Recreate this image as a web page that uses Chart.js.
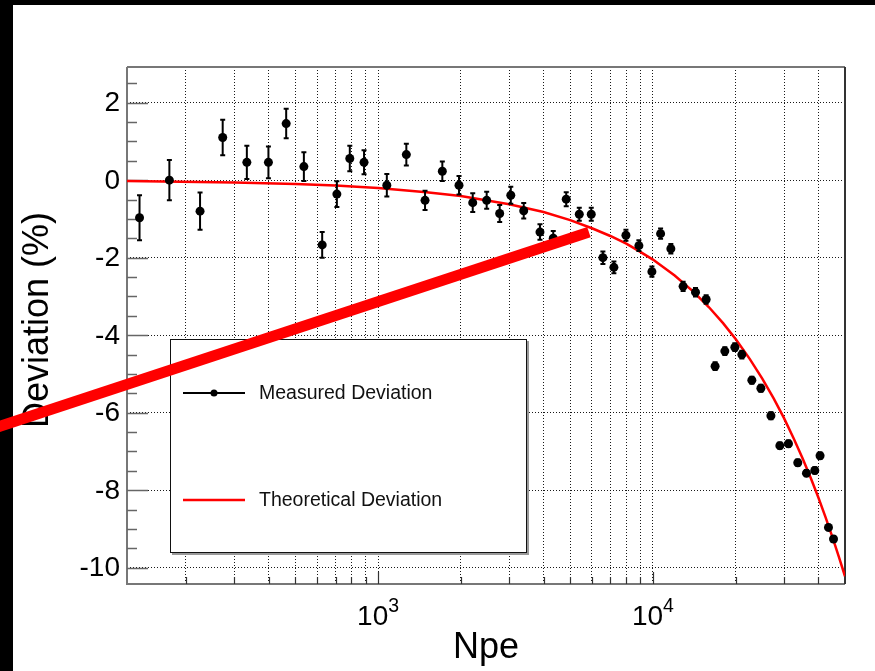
<!DOCTYPE html>
<html>
<head>
<meta charset="utf-8">
<title>Deviation vs Npe</title>
<script src="https://cdn.jsdelivr.net/npm/chart.js@4.4.1/dist/chart.umd.min.js"></script>
<style>
  html, body { margin: 0; padding: 0; background: #fff; }
  canvas { display: block; }
</style>
</head>
<body>
<canvas id="devChart" width="875" height="671"></canvas>
<script>
// measured points: photo-electron count, deviation (%), error (%)
const npe = [135.5, 174, 225, 272, 333, 399, 463, 537, 626, 708, 789, 889,
    1076, 1267, 1482, 1713, 1970, 2210, 2484, 2770, 3040, 3388, 3882, 4339, 4837,
    5396, 5966, 6577, 7211, 7977, 8892, 9916, 10665, 11622, 12880, 14290, 15620,
    16840, 18270, 19870, 21070, 22910, 24710, 26880, 28970, 31140, 33660, 36200,
    38820, 40570, 43540, 45420];
const deviation = [-0.97, 0.00, -0.80, 1.10, 0.46, 0.46, 1.46, 0.35, -1.67, -0.36, 0.56, 0.46,
    -0.13, 0.66, -0.52, 0.23, -0.13, -0.58, -0.52, -0.86, -0.39, -0.79, -1.34, -1.50, -0.49,
    -0.88, -0.88, -2.00, -2.25, -1.42, -1.69, -2.36, -1.38, -1.77, -2.74, -2.89, -3.08,
    -4.80, -4.41, -4.31, -4.50, -5.16, -5.37, -6.08, -6.85, -6.80, -7.29, -7.56,
    -7.49, -7.11, -8.96, -9.26];
const devError = [0.58, 0.52, 0.48, 0.46, 0.43, 0.41, 0.38, 0.37, 0.33, 0.33, 0.33, 0.31,
    0.29, 0.28, 0.25, 0.25, 0.24, 0.24, 0.22, 0.22, 0.22, 0.20, 0.20, 0.19, 0.18,
    0.17, 0.17, 0.16, 0.15, 0.14, 0.14, 0.13, 0.13, 0.12, 0.12, 0.11, 0.11,
    0.10, 0.10, 0.10, 0.10, 0.09, 0.09, 0.09, 0.08, 0.08, 0.08, 0.08,
    0.08, 0.08, 0.07, 0.07];

// theoretical curve
const theoryNpe = [122, 300, 500, 700, 1000, 1500, 2000, 3000, 4000, 5000, 6000, 7000, 8000,
    9000, 10000, 12000, 14000, 16000, 18000, 20000, 22500, 25000, 27500, 30000,
    32500, 35000, 37500, 40000, 42500, 45000, 47500, 50000];
const theoryDev = [-0.02, -0.06, -0.10, -0.14, -0.20, -0.31, -0.41, -0.62, -0.82, -1.03, -1.24, -1.44, -1.64,
    -1.85, -2.05, -2.46, -2.87, -3.28, -3.69, -4.10, -4.61, -5.12, -5.63, -6.14,
    -6.66, -7.17, -7.68, -8.19, -8.70, -9.21, -9.72, -10.22];

// thick red pointer stroke, [npe, deviation] ends
const pointerLine = [[40, -6.4], [5850, -1.34]];

// axis ticks
const xGridTicks = [200, 300, 400, 500, 600, 700, 800, 900, 1000, 2000, 3000, 4000, 5000,
    6000, 7000, 8000, 9000, 10000, 20000, 30000, 40000];
const xLabelTicks = [1000, 10000];
const xLabelExp = ['3', '4'];
const yLabelTicks = [2, 0, -2, -4, -6, -8, -10];

const X_MIN = 122, X_MAX = 50000, Y_MIN = -10.42, Y_MAX = 2.92;
const FONT = '"Liberation Sans", Arial, Helvetica, sans-serif';

const rootStyle = {
    id: 'rootStyle',
    beforeDraw(chart) {
        const ctx = chart.ctx;
        ctx.save();
        ctx.fillStyle = '#fff';
        ctx.fillRect(0, 0, chart.width, chart.height);
        ctx.fillStyle = '#000';
        ctx.fillRect(0, 0, chart.width, 5);
        ctx.fillRect(0, 0, 13, chart.height);
        ctx.restore();
    },
    beforeDatasetsDraw(chart) {
        const { ctx, chartArea: a, scales: { x, y } } = chart;
        ctx.save();

        // legend box
        ctx.fillStyle = '#fff';
        ctx.fillRect(170, 339, 357, 214);
        ctx.strokeStyle = '#999';
        ctx.lineWidth = 2;
        ctx.beginPath();
        ctx.moveTo(528, 341); ctx.lineTo(528, 554); ctx.lineTo(172, 554);
        ctx.stroke();
        ctx.strokeStyle = '#111';
        ctx.lineWidth = 1;
        ctx.strokeRect(170.5, 339.5, 356, 213);

        ctx.strokeStyle = '#000';
        ctx.lineWidth = 2;
        ctx.beginPath(); ctx.moveTo(183, 393); ctx.lineTo(245, 393); ctx.stroke();
        ctx.fillStyle = '#000';
        ctx.beginPath(); ctx.arc(214, 393, 3.5, 0, Math.PI * 2); ctx.fill();
        ctx.strokeStyle = '#f00';
        ctx.lineWidth = 2.5;
        ctx.beginPath(); ctx.moveTo(183, 500); ctx.lineTo(245, 500); ctx.stroke();

        ctx.fillStyle = '#111';
        ctx.font = `19.5px ${FONT}`;
        ctx.textAlign = 'left';
        ctx.textBaseline = 'middle';
        ctx.fillText('Measured Deviation', 259, 394);
        ctx.fillText('Theoretical Deviation', 259, 501);

        // frame
        ctx.lineWidth = 2;
        ctx.strokeStyle = '#777';
        ctx.beginPath();
        ctx.moveTo(a.left, a.top); ctx.lineTo(a.right, a.top);
        ctx.moveTo(a.left, a.top); ctx.lineTo(a.left, a.bottom); ctx.lineTo(a.right, a.bottom);
        ctx.stroke();
        ctx.strokeStyle = '#333';
        ctx.beginPath(); ctx.moveTo(a.right, a.top); ctx.lineTo(a.right, a.bottom); ctx.stroke();

        // y ticks, major every 2, minor every 0.5
        ctx.strokeStyle = '#666';
        ctx.lineWidth = 1.5;
        for (let v = -10; v <= Y_MAX; v += 0.5) {
            const py = Math.round(y.getPixelForValue(v)) + 0.5;
            const len = yLabelTicks.includes(v) ? 21 : 10;
            ctx.beginPath(); ctx.moveTo(a.left, py); ctx.lineTo(a.left + len, py); ctx.stroke();
        }
        // x ticks
        ctx.strokeStyle = '#333';
        ctx.lineWidth = 1.2;
        xGridTicks.forEach(n => {
            const px = Math.round(x.getPixelForValue(n)) + 0.5;
            const len = xLabelTicks.includes(n) ? 12 : 7;
            ctx.beginPath(); ctx.moveTo(px, a.bottom); ctx.lineTo(px, a.bottom - len); ctx.stroke();
        });

        // tick labels
        ctx.fillStyle = '#000';
        ctx.font = `28px ${FONT}`;
        ctx.textAlign = 'right';
        ctx.textBaseline = 'middle';
        yLabelTicks.forEach(v => ctx.fillText(String(v), 120, y.getPixelForValue(v) + 1));

        ctx.textAlign = 'left';
        ctx.textBaseline = 'alphabetic';
        xLabelTicks.forEach((n, i) => {
            const px = x.getPixelForValue(n);
            ctx.font = `28px ${FONT}`;
            const wBase = ctx.measureText('10').width;
            ctx.font = `19.5px ${FONT}`;
            const wExp = ctx.measureText(xLabelExp[i]).width;
            const left = px - (wBase + wExp) / 2;
            ctx.font = `28px ${FONT}`;
            ctx.fillText('10', left, 625);
            ctx.font = `19.5px ${FONT}`;
            ctx.fillText(xLabelExp[i], left + wBase, 612);
        });

        // axis titles
        ctx.font = `36px ${FONT}`;
        ctx.textAlign = 'center';
        ctx.fillText('Npe', (a.left + a.right) / 2, 658);
        ctx.save();
        ctx.translate(48, 320);
        ctx.rotate(-Math.PI / 2);
        ctx.fillText('Deviation (%)', 0, 0);
        ctx.restore();

        ctx.restore();
    }
};

const errorBars = {
    id: 'errorBars',
    beforeDatasetDraw(chart, args) {
        if (args.index !== 0) return;
        const { ctx, chartArea: a, scales: { x, y } } = chart;
        ctx.save();
        ctx.beginPath();
        ctx.rect(a.left, a.top, a.width, a.height);
        ctx.clip();
        ctx.strokeStyle = '#000';
        ctx.lineWidth = 2;
        npe.forEach((n, i) => {
            const px = x.getPixelForValue(n);
            const hi = y.getPixelForValue(deviation[i] + devError[i]);
            const lo = y.getPixelForValue(deviation[i] - devError[i]);
            ctx.beginPath();
            ctx.moveTo(px, hi); ctx.lineTo(px, lo);
            ctx.moveTo(px - 2.5, hi); ctx.lineTo(px + 2.5, hi);
            ctx.moveTo(px - 2.5, lo); ctx.lineTo(px + 2.5, lo);
            ctx.stroke();
        });
        ctx.restore();
    }
};

const gridOpts = { color: 'rgba(0,0,0,0.9)', lineWidth: 1, drawTicks: false };

new Chart(document.getElementById('devChart'), {
    type: 'scatter',
    data: {
        datasets: [
            {
                label: 'Measured Deviation',
                data: npe.map((n, i) => ({ x: n, y: deviation[i] })),
                showLine: false,
                pointRadius: 4.5,
                pointBackgroundColor: '#000',
                pointBorderWidth: 0,
                order: 1
            },
            {
                label: 'Theoretical Deviation',
                data: theoryNpe.map((n, i) => ({ x: n, y: theoryDev[i] })),
                showLine: true,
                borderColor: '#f00',
                borderWidth: 2.5,
                pointRadius: 0,
                tension: 0,
                order: 2
            },
            {
                label: 'pointer',
                data: pointerLine.map(p => ({ x: p[0], y: p[1] })),
                showLine: true,
                borderColor: '#f00',
                borderWidth: 11,
                borderCapStyle: 'butt',
                pointRadius: 0,
                clip: false,
                order: 0
            }
        ]
    },
    options: {
        responsive: false,
        animation: false,
        events: [],
        layout: { padding: { left: 127, top: 67, right: 30, bottom: 87 } },
        plugins: { legend: { display: false }, tooltip: { enabled: false } },
        scales: {
            x: {
                type: 'logarithmic',
                min: X_MIN,
                max: X_MAX,
                afterBuildTicks: s => { s.ticks = xGridTicks.map(v => ({ value: v })); },
                ticks: { display: false },
                grid: gridOpts,
                border: { display: false, dash: [1, 2] }
            },
            y: {
                type: 'linear',
                min: Y_MIN,
                max: Y_MAX,
                afterBuildTicks: s => { s.ticks = yLabelTicks.map(v => ({ value: v })); },
                ticks: { display: false },
                grid: gridOpts,
                border: { display: false, dash: [1, 2] }
            }
        }
    },
    plugins: [rootStyle, errorBars]
});
</script>
</body>
</html>
